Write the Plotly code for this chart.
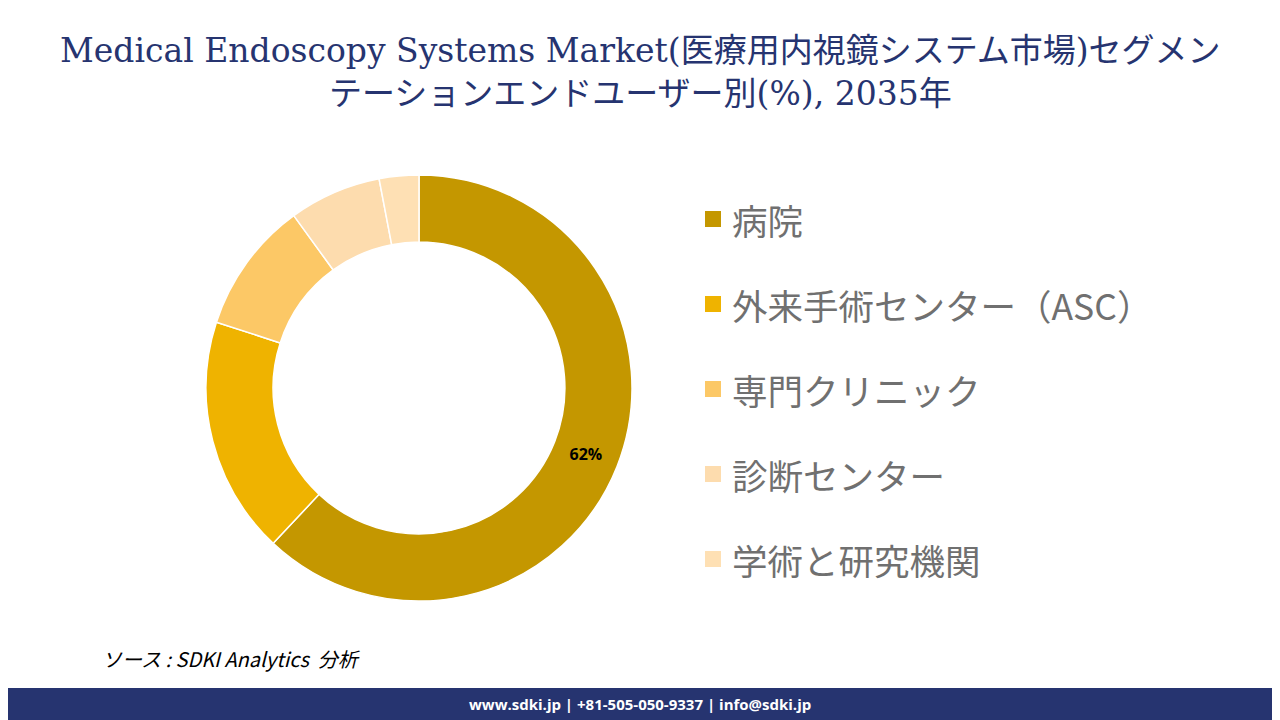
import plotly.graph_objects as go

labels = ["病院", "外来手術センター（ASC）", "専門クリニック", "診断センター", "学術と研究機関"]
values = [62, 18, 10, 7, 3]
colors = ["#C49700", "#EFB300", "#FCC866", "#FDDCAE", "#FEE0B4"]
shown = ["62%", "", "", "", ""]

W, H = 1272, 712  # page has an 8px body margin
OFF = 8


def px(x):
    return (x - OFF) / W


def py(y):
    return 1 - (y - OFF) / H


fig = go.Figure()
fig.add_trace(go.Pie(
    labels=labels, values=values, hole=0.685, sort=False, direction="clockwise",
    rotation=0, marker=dict(colors=colors, line=dict(color="white", width=1.5)),
    text=shown, texttemplate="<b>%{text}</b>", textposition="inside",
    insidetextorientation="horizontal",
    textfont=dict(family="Open Sans", size=16, color="black"),
    showlegend=False, hoverinfo="label+percent",
    domain=dict(x=[px(206), px(632)], y=[py(601), py(175)]),
))

# legend drawn by hand
for i, (lab, col) in enumerate(zip(labels, colors)):
    yc = 219 + i * 85
    fig.add_shape(type="rect", xref="paper", yref="paper",
                  x0=px(705), x1=px(721), y0=py(yc + 8), y1=py(yc - 8),
                  fillcolor=col, line_width=0)
    fig.add_annotation(x=px(730), y=py(yc), xref="paper", yref="paper",
                       text=lab, showarrow=False, xanchor="left", yanchor="middle",
                       font=dict(family="Noto Sans CJK JP", size=35.5, color="#707070"))

fig.add_annotation(x=px(640), y=py(72), xref="paper", yref="paper", showarrow=False,
                   text="Medical Endoscopy Systems Market(医療用内視鏡システム市場)セグメン<br>テーションエンドユーザー別(%), 2035年",
                   font=dict(family="DejaVu Serif, Noto Sans CJK JP", size=33, color="#263470"),
                   xanchor="center", yanchor="middle")
fig.add_annotation(x=px(100), y=py(658), xref="paper", yref="paper", showarrow=False,
                   text="<i>ソース : SDKI Analytics  分析</i>", xanchor="left", yanchor="middle",
                   font=dict(family="Noto Sans CJK JP", size=20, color="black"))
fig.add_shape(type="rect", xref="paper", yref="paper", x0=0, x1=1.01, y0=-0.01, y1=py(688),
              fillcolor="#263470", line_width=0)
fig.add_annotation(x=px(640), y=py(704), xref="paper", yref="paper", showarrow=False,
                   text="<b>www.sdki.jp | +81-505-050-9337 | info@sdki.jp</b>",
                   font=dict(family="Open Sans", size=15, color="white"),
                   xanchor="center", yanchor="middle")

fig.update_layout(width=W, height=H, margin=dict(l=0, r=0, t=0, b=0),
                  paper_bgcolor="white", plot_bgcolor="white")
fig.write_html("out.html")
